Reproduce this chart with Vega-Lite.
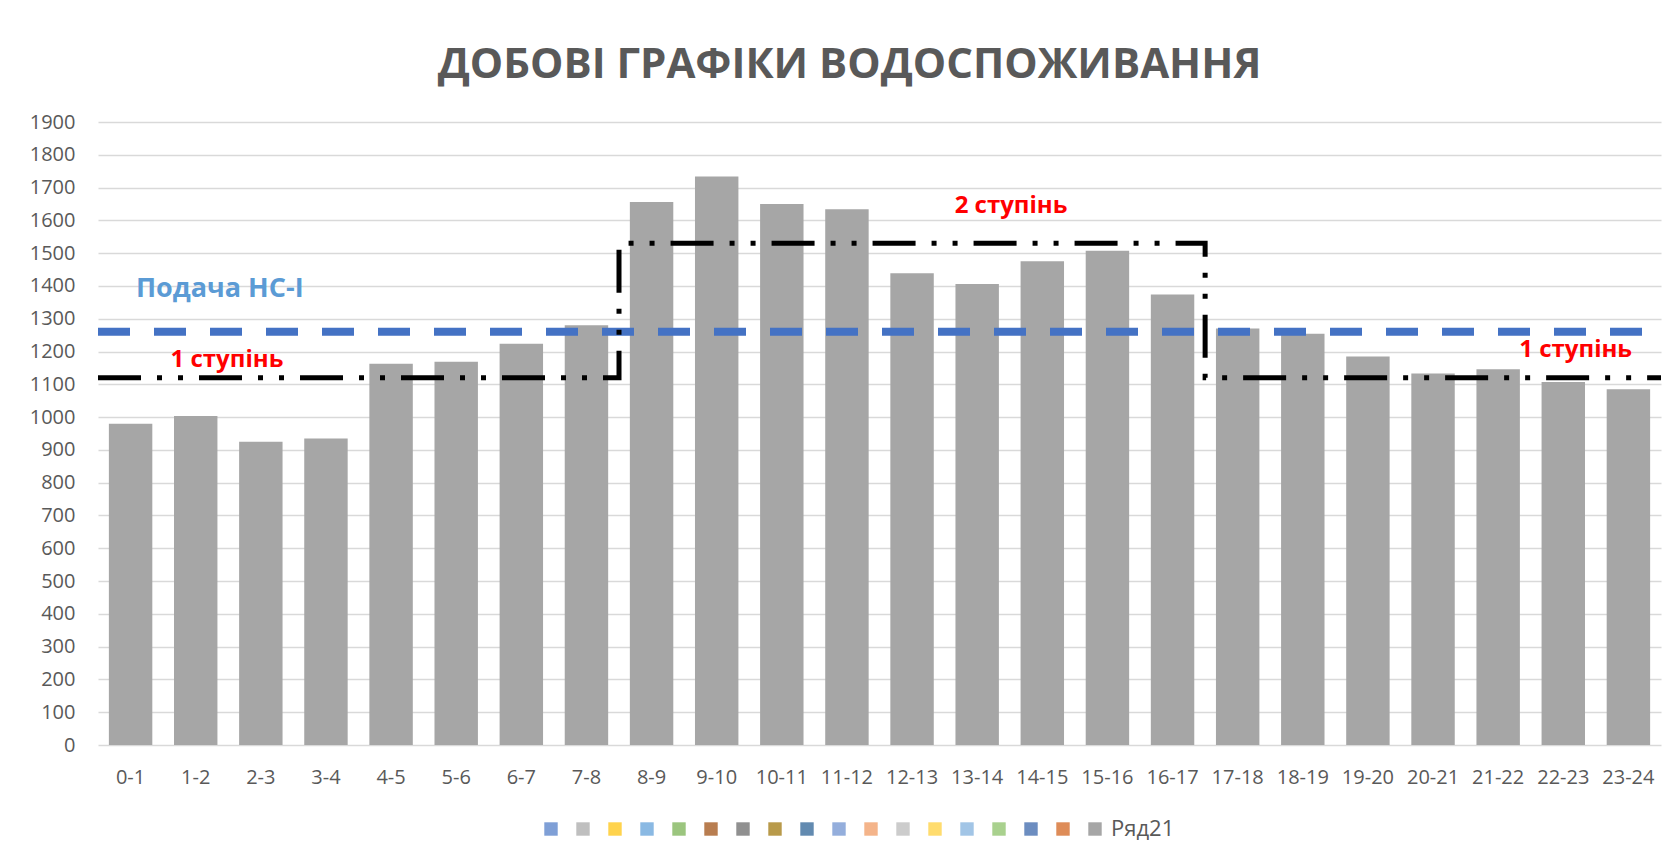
{
  "$schema": "https://vega.github.io/schema/vega-lite/v6.json",
  "width": 1563,
  "height": 623,
  "autosize": "none",
  "padding": {"left": 98, "top": 122, "right": 9, "bottom": 117},
  "background": "white",
  "title": {
    "text": "ДОБОВІ ГРАФІКИ ВОДОСПОЖИВАННЯ",
    "font": "Open Sans",
    "fontSize": 42,
    "fontWeight": "bold",
    "color": "#595959",
    "anchor": "middle",
    "dx": -30,
    "offset": 25
  },
  "config": {
    "view": {"stroke": null},
    "axis": {"labelFont": "Open Sans", "labelColor": "#595959", "labelFontSize": 20},
    "legend": {"labelFont": "Open Sans"}
  },
  "datasets": {
    "bars": [
      {"hour": "0-1", "q": 980},
      {"hour": "1-2", "q": 1003},
      {"hour": "2-3", "q": 925},
      {"hour": "3-4", "q": 935},
      {"hour": "4-5", "q": 1163},
      {"hour": "5-6", "q": 1169},
      {"hour": "6-7", "q": 1224},
      {"hour": "7-8", "q": 1280},
      {"hour": "8-9", "q": 1656},
      {"hour": "9-10", "q": 1734},
      {"hour": "10-11", "q": 1650},
      {"hour": "11-12", "q": 1634},
      {"hour": "12-13", "q": 1439},
      {"hour": "13-14", "q": 1406},
      {"hour": "14-15", "q": 1475},
      {"hour": "15-16", "q": 1507},
      {"hour": "16-17", "q": 1374},
      {"hour": "17-18", "q": 1270},
      {"hour": "18-19", "q": 1254},
      {"hour": "19-20", "q": 1185},
      {"hour": "20-21", "q": 1133},
      {"hour": "21-22", "q": 1146},
      {"hour": "22-23", "q": 1107},
      {"hour": "23-24", "q": 1085}
    ],
    "supply": [
      {"q": 1260}
    ],
    "steps": [
      {"t": 0, "q": 1120, "o": 1},
      {"t": 8, "q": 1120, "o": 2},
      {"t": 8, "q": 1530, "o": 3},
      {"t": 17, "q": 1530, "o": 4},
      {"t": 17, "q": 1120, "o": 5},
      {"t": 24, "q": 1120, "o": 6}
    ],
    "redLabels": [
      {"t": 1.98, "q": 1173, "label": "1 ступінь"},
      {"t": 14.02, "q": 1643, "label": "2 ступінь"},
      {"t": 22.69, "q": 1204, "label": "1 ступінь"}
    ],
    "blueLabels": [
      {"t": 1.87, "q": 1390, "label": "Подача НС-І"}
    ]
  },
  "layer": [
    {
      "data": {"name": "bars"},
      "mark": {"type": "bar"},
      "encoding": {
        "x": {
          "field": "hour", "type": "nominal", "sort": null,
          "scale": {"paddingInner": 0.333, "paddingOuter": 0.167},
          "axis": {"title": null, "labelAngle": 0, "ticks": false, "domain": false, "labelPadding": 22, "grid": false}
        },
        "y": {
          "field": "q", "type": "quantitative",
          "scale": {"domain": [0, 1900], "nice": false},
          "axis": {
            "title": null, "format": "d",
            "values": [0,100,200,300,400,500,600,700,800,900,1000,1100,1200,1300,1400,1500,1600,1700,1800,1900],
            "ticks": false, "domain": false, "labelPadding": 23,
            "gridColor": "#D9D9D9", "gridWidth": 1.5
          }
        },
        "color": {
          "datum": "Ряд21",
          "scale": {
            "domain": ["s1","s2","s3","s4","s5","s6","s7","s8","s9","s10","s11","s12","s13","s14","s15","s16","s17","Ряд21"],
            "range": ["#7F9FD6","#BFBFBF","#FFD34D","#8AB9E3","#9BC57E","#B87D50","#909090","#B89A4A","#628AB0","#94AEDC","#F4B48A","#CCCCCC","#FFDC6E","#A2C5E6","#A9D18E","#6C8DC0","#DE8C58","#A6A6A6"]
          },
          "legend": {
            "title": null,
            "orient": "none",
            "direction": "horizontal",
            "legendX": 442,
            "legendY": 696,
            "symbolType": "square",
            "symbolSize": 180,
            "symbolStrokeWidth": 0,
            "labelOffset": 5,
            "columnPadding": 5,
            "labelFontSize": 22,
            "labelColor": "#595959",
            "labelExpr": "datum.label == 'Ряд21' ? 'Ряд21' : ''"
          }
        }
      }
    },
    {
      "data": {"name": "supply"},
      "mark": {"type": "rule", "color": "#4472C4", "strokeWidth": 8, "strokeDash": [32, 24], "strokeDashOffset": 37},
      "encoding": {
        "y": {"field": "q", "type": "quantitative",
          "axis": {"title": null, "format": "d",
            "values": [0,100,200,300,400,500,600,700,800,900,1000,1100,1200,1300,1400,1500,1600,1700,1800,1900],
            "ticks": false, "domain": false, "labelPadding": 23,
            "gridColor": "#D9D9D9", "gridWidth": 1.5}}
      }
    },
    {
      "data": {"name": "steps"},
      "mark": {"type": "line", "color": "#000000", "strokeWidth": 5, "strokeDash": [43, 16, 5, 16, 5, 16], "strokeCap": "butt", "strokeJoin": "miter"},
      "encoding": {
        "x": {"field": "t", "type": "quantitative", "scale": {"domain": [0, 24], "nice": false, "zero": false}, "axis": null},
        "y": {"field": "q", "type": "quantitative",
          "axis": {"title": null, "format": "d",
            "values": [0,100,200,300,400,500,600,700,800,900,1000,1100,1200,1300,1400,1500,1600,1700,1800,1900],
            "ticks": false, "domain": false, "labelPadding": 23,
            "gridColor": "#D9D9D9", "gridWidth": 1.5}},
        "order": {"field": "o", "type": "quantitative"}
      }
    },
    {
      "data": {"name": "redLabels"},
      "mark": {"type": "text", "color": "#FF0000", "font": "Open Sans", "fontWeight": "bold", "fontSize": 24, "align": "center", "baseline": "middle"},
      "encoding": {
        "x": {"field": "t", "type": "quantitative", "scale": {"domain": [0, 24], "nice": false, "zero": false}, "axis": null},
        "y": {"field": "q", "type": "quantitative",
          "axis": {"title": null, "format": "d",
            "values": [0,100,200,300,400,500,600,700,800,900,1000,1100,1200,1300,1400,1500,1600,1700,1800,1900],
            "ticks": false, "domain": false, "labelPadding": 23,
            "gridColor": "#D9D9D9", "gridWidth": 1.5}},
        "text": {"field": "label"}
      }
    },
    {
      "data": {"name": "blueLabels"},
      "mark": {"type": "text", "color": "#5B9BD5", "font": "Open Sans", "fontWeight": "bold", "fontSize": 27, "align": "center", "baseline": "middle"},
      "encoding": {
        "x": {"field": "t", "type": "quantitative", "scale": {"domain": [0, 24], "nice": false, "zero": false}, "axis": null},
        "y": {"field": "q", "type": "quantitative",
          "axis": {"title": null, "format": "d",
            "values": [0,100,200,300,400,500,600,700,800,900,1000,1100,1200,1300,1400,1500,1600,1700,1800,1900],
            "ticks": false, "domain": false, "labelPadding": 23,
            "gridColor": "#D9D9D9", "gridWidth": 1.5}},
        "text": {"field": "label"}
      }
    }
  ],
  "resolve": {"scale": {"x": "independent"}}
}
